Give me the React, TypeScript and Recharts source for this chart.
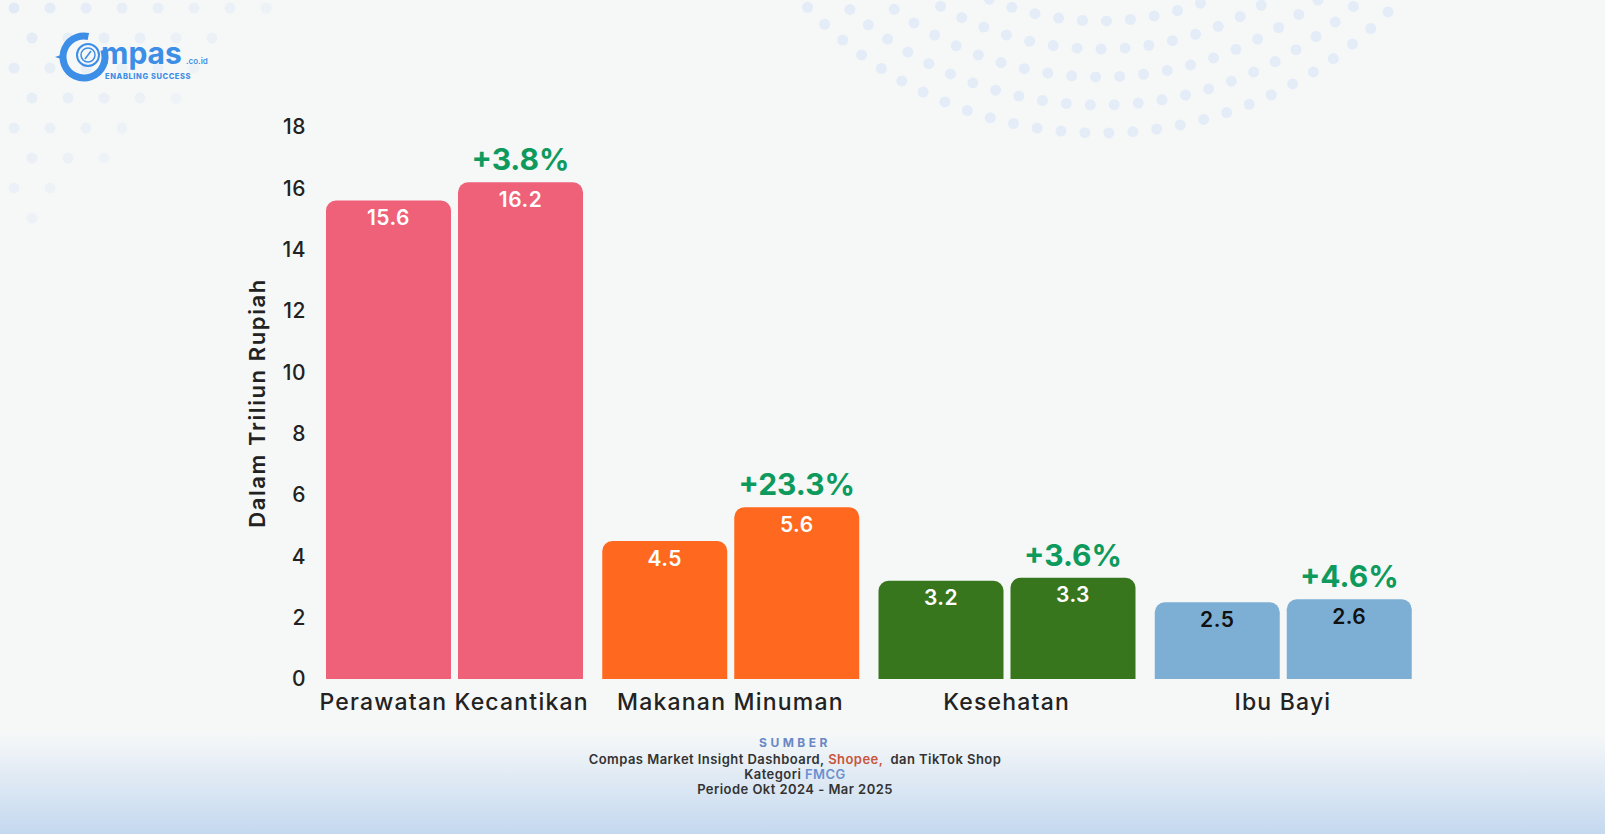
import { BarChart, Bar, XAxis, YAxis, Cell, LabelList } from 'recharts';

// Nilai penjualan FMCG per kategori (dalam triliun rupiah)
const categories = ['Perawatan Kecantikan', 'Makanan Minuman', 'Kesehatan', 'Ibu Bayi'];
const periodA = [15.6, 4.5, 3.2, 2.5];
const periodB = [16.2, 5.6, 3.3, 2.6];
const growth = ['+3.8%', '+23.3%', '+3.6%', '+4.6%'];
const yTicks = [0, 2, 4, 6, 8, 10, 12, 14, 16, 18];

const barColors = ['#EF6079', '#FF691F', '#38761D', '#7DAFD5'];
const valueColors = ['#FFFFFF', '#FFFFFF', '#FFFFFF', '#111111'];

const FONT = "Inter, 'Open Sans', sans-serif";
const W = 1605;
const H = 834;

const data = categories.map((name, i) => ({
  name,
  a: periodA[i],
  b: periodB[i],
  growth: growth[i],
}));

// decorative dots in the background
function BackgroundDots() {
  const dots: { x: number; y: number; o: number }[] = [];
  for (let r = 0; r < 10; r++) {
    for (let c = 0; c < 10; c++) {
      const x = c * 36 + (r % 2) * 18 + 14;
      const y = r * 30 + 8;
      const d = x / 290 + y / 250;
      if (d < 1) dots.push({ x, y, o: 1 - d * 0.6 });
    }
  }
  const arcs: { x: number; y: number }[] = [];
  const cx = 1100;
  const cy = -270;
  for (let k = 0; k < 5; k++) {
    const rad = 291 + k * 28;
    const step = 24 / rad;
    for (let t = -1.05; t <= 0.8; t += step) {
      const x = cx + rad * Math.sin(t);
      const y = cy + rad * Math.cos(t);
      if (y > -6) arcs.push({ x, y });
    }
  }
  return (
    <svg width={W} height={H} style={{ position: 'absolute', left: 0, top: 0 }}>
      {dots.map((p, i) => (
        <circle key={'l' + i} cx={p.x} cy={p.y} r={5.5} fill="#E1EAF5" opacity={p.o} />
      ))}
      {arcs.map((p, i) => (
        <circle key={'a' + i} cx={p.x} cy={p.y} r={5.5} fill="#E3ECF7" />
      ))}
    </svg>
  );
}

function Logo() {
  const blue = '#3C8EE6';
  return (
    <svg width={220} height={100} style={{ position: 'absolute', left: 0, top: 0 }}>
      <path d="M 55 57 L 64 54 L 64 60 Z" fill={blue} />
      <circle cx={84} cy={57} r={21} fill="none" stroke={blue} strokeWidth={7} strokeDasharray="110 22" transform="rotate(-20 84 57)" />
      <circle cx={88} cy={55} r={11} fill="none" stroke={blue} strokeWidth={2} />
      <circle cx={88} cy={55} r={7} fill="none" stroke={blue} strokeWidth={1.5} />
      <path d="M 85 59 L 91 51" stroke={blue} strokeWidth={1.5} />
      <text x={101} y={64} fill={blue} fontFamily={FONT} fontWeight={700} fontSize={30}>mpas</text>
      <text x={186} y={64} fill={blue} fontFamily={FONT} fontWeight={600} fontSize={8}>.co.id</text>
      <text x={105} y={79} fill={blue} fontFamily={FONT} fontWeight={800} fontSize={7.5} letterSpacing={0.6}>ENABLING SUCCESS</text>
    </svg>
  );
}

const ValueLabel = (props: any) => {
  const { x, y, width, index, value } = props;
  return (
    <text
      x={x + width / 2}
      y={y + 17}
      textAnchor="middle"
      dominantBaseline="central"
      fill={valueColors[index]}
      fontFamily={FONT}
      fontWeight={600}
      fontSize={21}
      letterSpacing={0.5}
    >
      {value}
    </text>
  );
};

const GrowthLabel = (props: any) => {
  const { x, y, width, value } = props;
  return (
    <text
      x={x + width / 2}
      y={y - 23}
      textAnchor="middle"
      dominantBaseline="central"
      fill="#0E9A5C"
      fontFamily={FONT}
      fontWeight={700}
      fontSize={30}
    >
      {value}
    </text>
  );
};

export default function App() {
  return (
    <div
      style={{
        position: 'absolute',
        left: 0,
        top: 0,
        width: W,
        height: H,
        overflow: 'hidden',
        fontFamily: FONT,
        background: 'linear-gradient(180deg, #F6F8F8 0%, #F6F8F8 88%, #C4D8EF 100%)',
      }}
    >
      <BackgroundDots />
      <Logo />
      <div style={{ position: 'absolute', left: 0, top: 0 }}>
        <BarChart
          width={W}
          height={H}
          data={data}
          margin={{ top: 127, right: 184, left: 226, bottom: 115 }}
          barCategoryGap={10}
          barGap={7}
        >
          <XAxis
            dataKey="name"
            axisLine={false}
            tickLine={false}
            tickMargin={9}
            height={40}
            interval={0}
            tick={{ fill: '#222', fontSize: 23, fontWeight: 500, fontFamily: FONT, letterSpacing: 1.2 }}
          />
          <YAxis
            width={90}
            domain={[0, 18]}
            ticks={yTicks}
            axisLine={false}
            tickLine={false}
            tickMargin={4}
            tick={{ fill: '#222', fontSize: 21, fontWeight: 500, fontFamily: FONT, letterSpacing: 0.5 }}
            label={{
              content: ({ viewBox }: any) => (
                <text
                  x={viewBox.x + 31}
                  y={viewBox.y + viewBox.height / 2}
                  transform={`rotate(-90 ${viewBox.x + 31} ${viewBox.y + viewBox.height / 2})`}
                  textAnchor="middle"
                  dominantBaseline="central"
                  fill="#222"
                  fontFamily={FONT}
                  fontWeight={600}
                  fontSize={22}
                  letterSpacing={1.6}
                >
                  Dalam Triliun Rupiah
                </text>
              ),
            }}
          />
          <Bar dataKey="a" radius={[10, 10, 0, 0]} isAnimationActive={false}>
            {data.map((d, i) => (
              <Cell key={d.name} fill={barColors[i]} />
            ))}
            <LabelList dataKey="a" content={ValueLabel} />
          </Bar>
          <Bar dataKey="b" radius={[10, 10, 0, 0]} isAnimationActive={false}>
            {data.map((d, i) => (
              <Cell key={d.name} fill={barColors[i]} />
            ))}
            <LabelList dataKey="b" content={ValueLabel} />
            <LabelList dataKey="growth" content={GrowthLabel} />
          </Bar>
        </BarChart>
      </div>
      <div
        style={{
          position: 'absolute',
          left: 545,
          width: 500,
          top: 735,
          textAlign: 'center',
          fontSize: 13,
          fontWeight: 600,
          lineHeight: '15px',
          letterSpacing: 0.45,
          color: '#333',
        }}
      >
        <div style={{ color: '#6A88C4', fontWeight: 700, fontSize: 12, letterSpacing: 3.5, height: 17 }}>SUMBER</div>
        <div style={{ whiteSpace: 'pre' }}>
          Compas Market Insight Dashboard, <span style={{ color: '#C8553D' }}>Shopee,</span>  dan TikTok Shop
        </div>
        <div>
          Kategori <span style={{ color: '#6B8FD0' }}>FMCG</span>
        </div>
        <div>Periode Okt 2024 - Mar 2025</div>
      </div>
    </div>
  );
}
